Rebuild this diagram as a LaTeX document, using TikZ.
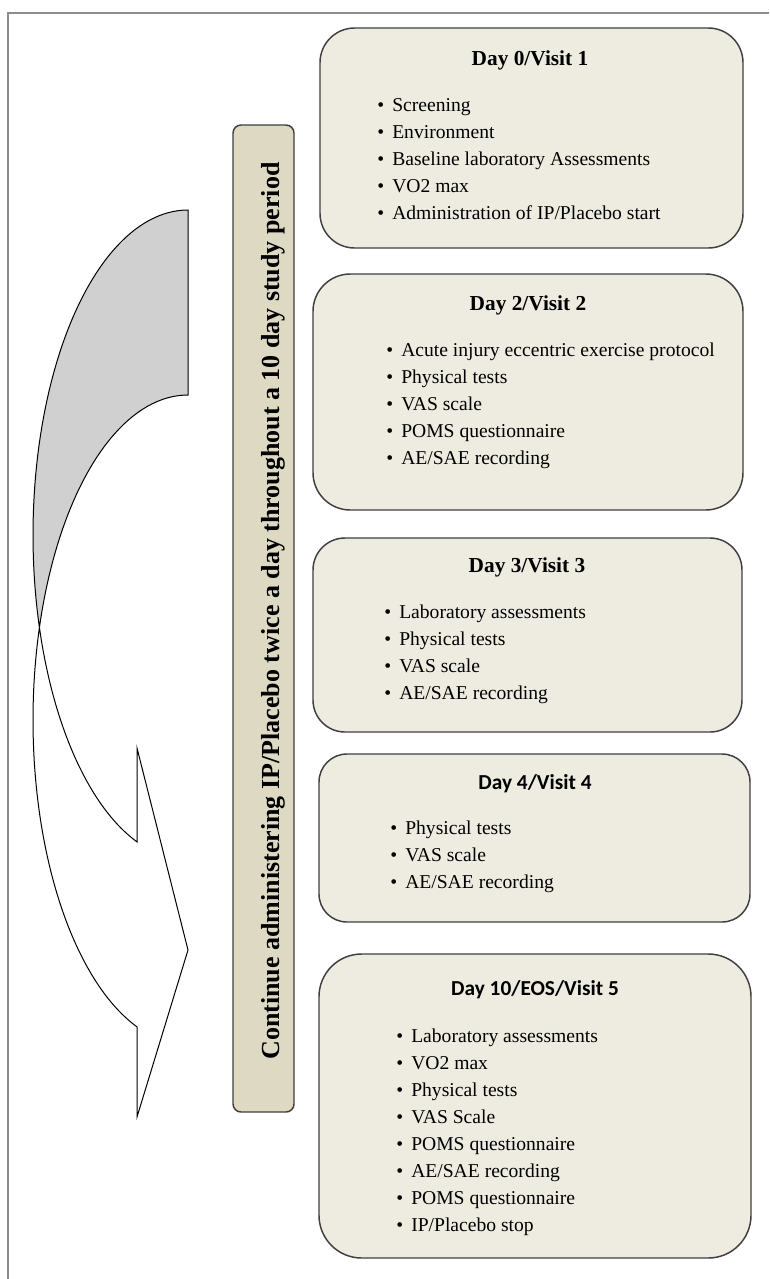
\documentclass[tikz,border=0pt]{standalone}
\usepackage{fontspec}
\setmainfont{Liberation Serif}
\newfontfamily\calibri{Carlito}
\usetikzlibrary{fit}
\definecolor{boxfill}{HTML}{EEECE1}
\definecolor{barfill}{HTML}{DDD9C3}
\definecolor{boxline}{HTML}{3F3F3F}
\definecolor{framec}{HTML}{8C8C8C}
\definecolor{arrowgray}{HTML}{D0D0D0}
\tikzset{
 visitbox/.style={draw=boxline, fill=boxfill, line width=1.1pt, inner sep=0pt, rectangle},
 vtitle/.style={anchor=base, font=\fontsize{16}{19}\selectfont\bfseries, inner sep=0pt},
 vtitlesans/.style={anchor=base, font=\fontsize{16}{19}\selectfont\calibri\bfseries, inner sep=0pt},
 vitem/.style={anchor=base west, font=\fontsize{14.7}{20}\selectfont, inner sep=0pt},
 arrowpart/.style={draw=black, line width=0.75pt},
}
\newcommand{\bul}{\makebox[11.25pt][l]{\textbullet}}
\begin{document}
\begin{tikzpicture}[x=0.75pt,y=-0.75pt]
\useasboundingbox (0,0) rectangle (769,1279);
% outer frame
\draw[framec, line width=1.1pt] (8,1279) -- (8,13) -- (769,13);

% curved arrow: front (white) part
\filldraw[arrowpart, fill=white]
  plot[domain=0:54.25, samples=50, variable=\s] ({188+155*cos(163.46-\s)},{535+325*sin(163.46-\s)})
  -- (137,748) -- (188,950) -- (137,1117)
  -- plot[domain=109.21:196.54, samples=60, variable=\t] ({188+155*cos(\t)},{720+325*sin(\t)})
  -- cycle;
% curved arrow: back (gray) part
\filldraw[arrowpart, fill=arrowgray]
  plot[domain=163.46:270, samples=60, variable=\t] ({188+155*cos(\t)},{535+325*sin(\t)})
  -- (188,395)
  -- plot[domain=0:73.46, samples=50, variable=\s] ({188+155*cos(270-\s)},{720+325*sin(270-\s)})
  -- cycle;

% vertical bar
\node[draw=boxline, fill=barfill, line width=1.1pt, rounded corners=6pt, inner sep=0pt, fit={(233,125)(294,1112)}] (bar) {};
\node[rotate=90, anchor=base, font=\fontsize{19.5}{22}\selectfont\bfseries, inner sep=0pt] (bartext) at (279,611) {Continue administering IP/Placebo twice a day throughout a 10 day study period};

% Visit 1
\node[visitbox, rounded corners=26pt, fit={(320,28)(743,248)}] (v1) {};
\node[vtitle] (v1t) at (530,65) {Day 0/Visit 1};
\foreach \txt [count=\i] in {Screening, Environment, Baseline laboratory Assessments, VO2 max, Administration of IP/Placebo start}
  \node[vitem] (v1i\i) at ({377},{111+27*(\i-1)}) {\bul\txt};

% Visit 2
\node[visitbox, rounded corners=28pt, fit={(313,274)(743,510)}] (v2) {};
\node[vtitle] (v2t) at (528,310) {Day 2/Visit 2};
\foreach \txt [count=\i] in {Acute injury eccentric exercise protocol, Physical tests, VAS scale, POMS questionnaire, AE/SAE recording}
  \node[vitem] (v2i\i) at ({386},{356+27*(\i-1)}) {\bul\txt};

% Visit 3
\node[visitbox, rounded corners=24pt, fit={(313,538)(742,732)}] (v3) {};
\node[vtitle] (v3t) at (527,572) {Day 3/Visit 3};
\foreach \txt [count=\i] in {Laboratory assessments, Physical tests, VAS scale, AE/SAE recording}
  \node[vitem] (v3i\i) at ({384},{618+27*(\i-1)}) {\bul\txt};

% Visit 4
\node[visitbox, rounded corners=21pt, fit={(319,754)(750,922)}] (v4) {};
\node[vtitlesans] (v4t) at (535,789) {Day 4/Visit 4};
\foreach \txt [count=\i] in {Physical tests, VAS scale, AE/SAE recording}
  \node[vitem] (v4i\i) at ({390},{834+27*(\i-1)}) {\bul\txt};

% Visit 5
\node[visitbox, rounded corners=32pt, fit={(319,954)(751,1258)}] (v5) {};
\node[vtitlesans] (v5t) at (535,995) {Day 10/EOS/Visit 5};
\foreach \txt [count=\i] in {Laboratory assessments, VO2 max, Physical tests, VAS Scale, POMS questionnaire, AE/SAE recording, POMS questionnaire, IP/Placebo stop}
  \node[vitem] (v5i\i) at ({396},{1042+27*(\i-1)}) {\bul\txt};
\end{tikzpicture}
\end{document}
